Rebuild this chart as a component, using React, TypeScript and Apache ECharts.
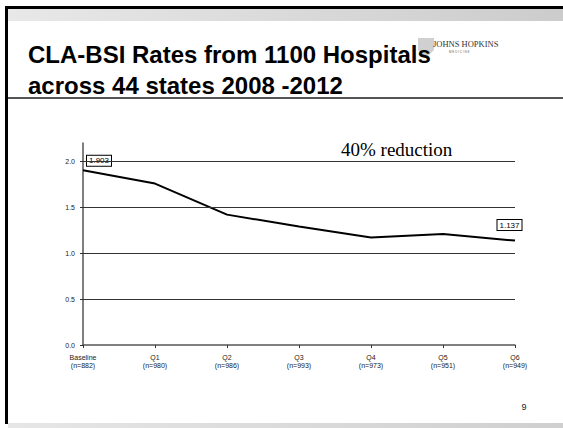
import React, { useEffect, useRef } from "react";
import * as echarts from "echarts";

const categories = [
  "Baseline\n(n=882)",
  "Q1\n(n=980)",
  "Q2\n(n=986)",
  "Q3\n(n=993)",
  "Q4\n(n=973)",
  "Q5\n(n=951)",
  "Q6\n(n=949)",
];
const rates = [1.903, 1.758, 1.42, 1.29, 1.17, 1.21, 1.137];
const labelledIndexes = [0, 6];
const gridValues = [0.5, 1.0, 1.5, 2.0];
const yTickValues = [0, 0.5, 1.0, 1.5, 2.0];
const titleLines = ["CLA-BSI Rates from 1100 Hospitals", "across 44 states 2008 -2012"];
const annotationText = "40% reduction";
const pageNumber = "9";
const logoText = "JOHNS HOPKINS";
const logoSubText = "M E D I C I N E";

const SANS = "'Liberation Sans', Arial, Helvetica, sans-serif";
const SERIF = "'Liberation Serif', 'Times New Roman', serif";

export default function App() {
  const ref = useRef<HTMLDivElement>(null);

  useEffect(() => {
    document.body.style.margin = "0";
    if (!ref.current) return;
    const chart = echarts.init(ref.current, null, { renderer: "svg" });

    const labelOffsets: Record<number, [number, number]> = {
      0: [16, -9.5],
      6: [-5.5, -15.6],
    };

    const seriesData = rates.map((v, i) =>
      labelledIndexes.includes(i)
        ? {
            value: v,
            label: {
              show: true,
              position: "inside",
              offset: labelOffsets[i],
              formatter: v.toFixed(3),
              fontSize: 8,
              fontFamily: SANS,
              color: "#000",
              backgroundColor: "#fff",
              borderColor: "#000",
              borderWidth: 1,
              padding: [1, 2, 0, 2],
              lineHeight: 9,
            },
          }
        : v
    );

    chart.setOption({
      animation: false,
      backgroundColor: "#fff",
      grid: { left: 83, right: 48, top: 143, bottom: 83 },
      xAxis: {
        type: "category",
        data: categories,
        boundaryGap: false,
        axisLine: { lineStyle: { color: "#555", width: 1.5 } },
        axisTick: { show: true, length: 3, lineStyle: { color: "#333" } },
        axisLabel: {
          interval: 0,
          fontSize: 7,
          lineHeight: 8.5,
          color: "#222",
          margin: 8,
          fontFamily: SANS,
        },
        splitLine: { show: false },
      },
      yAxis: {
        type: "value",
        min: 0,
        max: 2.2,
        interval: 0.5,
        axisLine: { show: true, lineStyle: { color: "#555", width: 1.5 } },
        axisTick: {
          show: true,
          length: 3,
          lineStyle: { color: "#333" },
          customValues: yTickValues,
        },
        axisLabel: {
          fontSize: 7,
          color: "#222",
          margin: 8,
          fontFamily: SANS,
          customValues: yTickValues,
          formatter: (v: number) => (Math.abs(v - 2.2) < 1e-6 ? "" : v.toFixed(1)),
        },
        splitLine: { show: false },
      },
      series: [
        {
          type: "line",
          data: seriesData,
          symbol: "circle",
          symbolSize: 0,
          showSymbol: true,
          lineStyle: { color: "#000", width: 2 },
          itemStyle: { color: "#000" },
          z: 3,
          markLine: {
            silent: true,
            symbol: ["none", "none"],
            label: { show: false },
            lineStyle: { color: "#333", width: 1, type: "solid" },
            emphasis: { disabled: true },
            data: gridValues.map((v) => ({ yAxis: v })),
          },
        },
      ],
      graphic: [
        // slide frame
        { type: "rect", shape: { x: 5, y: 6, width: 558, height: 3 }, style: { fill: "#000" } },
        { type: "rect", shape: { x: 5, y: 6, width: 3, height: 418 }, style: { fill: "#000" } },
        {
          type: "rect",
          shape: { x: 8, y: 9, width: 555, height: 12 },
          style: {
            fill: new echarts.graphic.LinearGradient(0, 0, 1, 0, [
              { offset: 0, color: "#e8e8e8" },
              { offset: 1, color: "#cccccc" },
            ]),
          },
        },
        {
          type: "rect",
          shape: { x: 8, y: 423, width: 555, height: 5 },
          style: {
            fill: new echarts.graphic.LinearGradient(0, 0, 1, 0, [
              { offset: 0, color: "#e6e6e6" },
              { offset: 1, color: "#cfcfcf" },
            ]),
          },
        },
        { type: "rect", shape: { x: 8, y: 97, width: 555, height: 2 }, style: { fill: "#555" } },
        // logo shield (behind title)
        {
          type: "polygon",
          shape: {
            points: [
              [418, 38],
              [434, 38],
              [434, 50],
              [426, 58],
              [418, 50],
            ],
          },
          style: { fill: "rgba(120,120,120,0.35)" },
        },
        // title
        {
          type: "text",
          x: 28,
          y: 54,
          style: {
            text: titleLines[0],
            font: `bold 24px ${SANS}`,
            fill: "#000",
            align: "left",
            verticalAlign: "middle",
          },
        },
        {
          type: "text",
          x: 28,
          y: 85,
          style: {
            text: titleLines[1],
            font: `bold 24px ${SANS}`,
            fill: "#000",
            align: "left",
            verticalAlign: "middle",
          },
        },
        // logo
        {
          type: "text",
          x: 433,
          y: 44,
          style: {
            text: logoText,
            font: `8.5px ${SERIF}`,
            fill: "#333",
            align: "left",
            verticalAlign: "middle",
          },
        },
        {
          type: "text",
          x: 449,
          y: 52,
          style: {
            text: logoSubText,
            font: `3px ${SANS}`,
            fill: "#666",
            align: "left",
            verticalAlign: "middle",
          },
        },
        // annotation
        {
          type: "text",
          x: 341,
          y: 149,
          style: {
            text: annotationText,
            font: `19px ${SERIF}`,
            fill: "#000",
            align: "left",
            verticalAlign: "middle",
          },
        },
        // page number
        {
          type: "text",
          x: 524,
          y: 407,
          style: {
            text: pageNumber,
            font: `9px ${SANS}`,
            fill: "#222",
            align: "center",
            verticalAlign: "middle",
          },
        },
      ],
    });

    return () => chart.dispose();
  }, []);

  return <div ref={ref} style={{ width: 563, height: 428 }} />;
}
